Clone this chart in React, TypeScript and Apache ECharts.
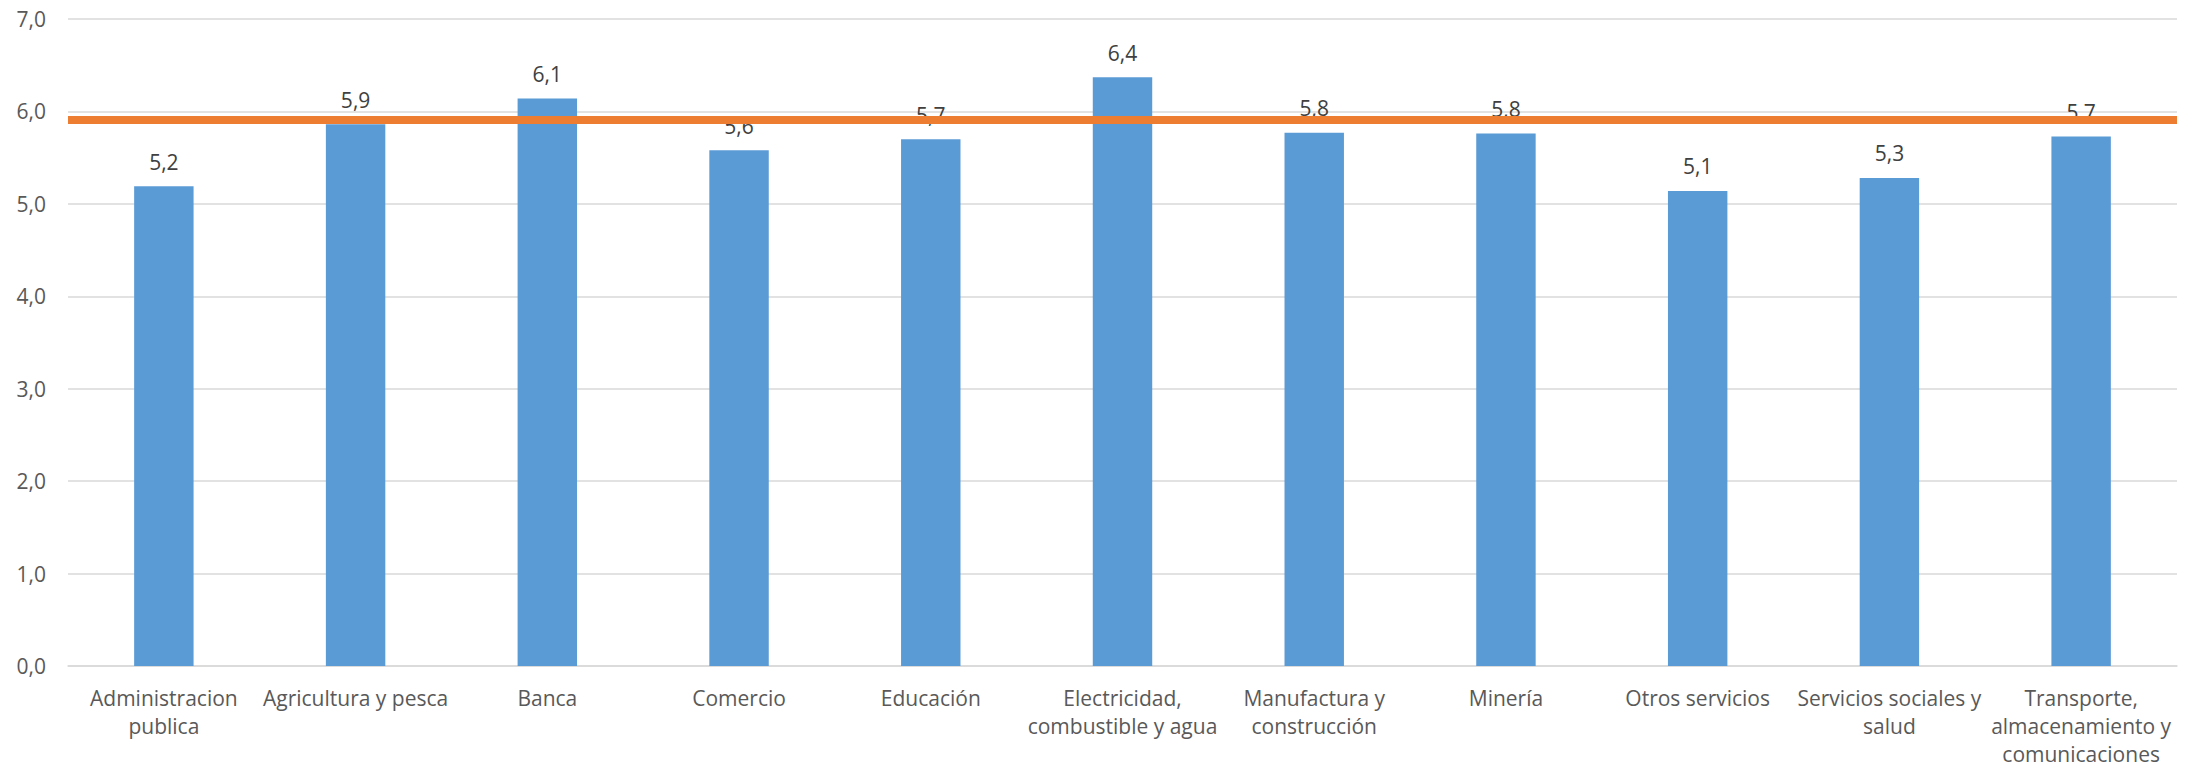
import React, { useEffect, useRef } from "react";
import * as echarts from "echarts";

const categories: string[] = [
  "Administracion\npublica",
  "Agricultura y pesca",
  "Banca",
  "Comercio",
  "Educación",
  "Electricidad,\ncombustible y agua",
  "Manufactura y\nconstrucción",
  "Minería",
  "Otros servicios",
  "Servicios sociales y\nsalud",
  "Transporte,\nalmacenamiento y\ncomunicaciones",
];

const values: number[] = [5.19, 5.86, 6.14, 5.58, 5.7, 6.37, 5.77, 5.76, 5.14, 5.28, 5.73];

const referenceValue = 5.91;

const yTicks = { min: 0, max: 7, interval: 1 };

const fmt = (v: number) => v.toFixed(1).replace(".", ",");

export default function App() {
  const ref = useRef<HTMLDivElement>(null);
  useEffect(() => {
    if (!ref.current) return;
    const chart = echarts.init(ref.current, undefined, { renderer: "svg" });
    const font = "'Open Sans', 'Noto Sans', sans-serif";
    chart.setOption({
      animation: false,
      grid: { left: 68, right: 13, top: 19, bottom: 100, containLabel: false },
      xAxis: {
        type: "category",
        data: categories,
        axisLine: { show: true, lineStyle: { color: "#d9d9d9", width: 1.5 } },
        axisTick: { show: false },
        axisLabel: {
          interval: 0,
          margin: 18,
          fontFamily: font,
          fontSize: 21,
          lineHeight: 28,
          color: "#595959",
        },
      },
      yAxis: {
        type: "value",
        min: yTicks.min,
        max: yTicks.max,
        interval: yTicks.interval,
        axisLine: { show: false },
        axisTick: { show: false },
        splitLine: { lineStyle: { color: "#d9d9d9", width: 1.5 } },
        axisLabel: {
          margin: 22,
          fontFamily: font,
          fontSize: 21,
          color: "#595959",
          formatter: (v: number) => fmt(v),
        },
      },
      series: [
        {
          type: "bar",
          data: values,
          barWidth: "31%",
          itemStyle: { color: "#5b9bd5" },
          label: {
            show: true,
            position: "top",
            distance: 14,
            fontFamily: font,
            fontSize: 21,
            color: "#404040",
            formatter: (p: any) => fmt(p.value),
          },
          markLine: {
            silent: true,
            symbol: "none",
            z: 10,
            label: { show: false },
            lineStyle: { color: "#ed7d31", width: 8, type: "solid" },
            data: [{ yAxis: referenceValue }],
          },
        },
      ],
    });
    return () => chart.dispose();
  }, []);
  return (
    <div
      ref={ref}
      style={{ position: "absolute", left: 0, top: 0, width: 2190, height: 768, background: "#fff" }}
    />
  );
}
